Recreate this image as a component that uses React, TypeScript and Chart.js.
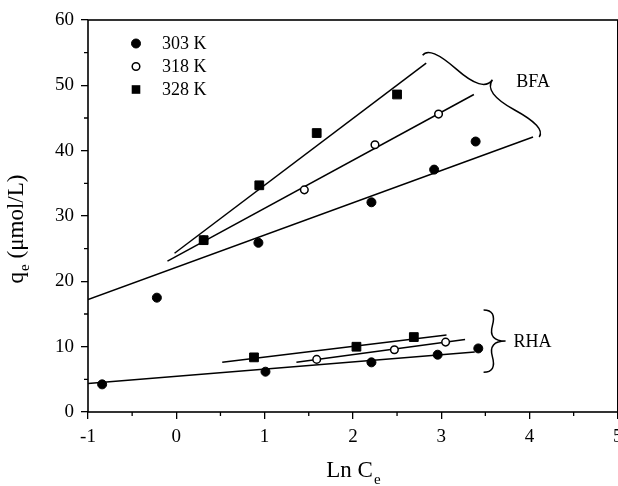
import React, { useEffect, useRef } from "react";
import { Chart, registerables } from "chart.js";

Chart.register(...registerables);

const FONT = '"Liberation Serif", "Times New Roman", serif';

// ---------- data ----------
const seriesLabels = ["303 K", "318 K", "328 K"];

// BFA measured points
const bfa303X = [-0.22, 0.93, 2.21, 2.92, 3.39];
const bfa303Y = [17.5, 25.9, 32.1, 37.1, 41.4];
const bfa318X = [0.31, 1.45, 2.25, 2.97];
const bfa318Y = [26.3, 34.0, 40.9, 45.6];
const bfa328X = [0.31, 0.94, 1.59, 2.5];
const bfa328Y = [26.3, 34.7, 42.7, 48.6];

// RHA measured points
const rha303X = [-0.84, 1.01, 2.21, 2.96, 3.42];
const rha303Y = [4.23, 6.17, 7.6, 8.77, 9.73];
const rha318X = [1.59, 2.47, 3.05];
const rha318Y = [8.05, 9.53, 10.7];
const rha328X = [0.88, 2.04, 2.69];
const rha328Y = [8.36, 9.99, 11.47];

// fitted lines (start, end)
const fitBfa303X = [-1.0, 4.04];
const fitBfa303Y = [17.2, 42.1];
const fitBfa318X = [-0.1, 3.37];
const fitBfa318Y = [23.1, 48.6];
const fitBfa328X = [-0.02, 2.83];
const fitBfa328Y = [24.3, 53.4];
const fitRha303X = [-1.0, 3.38];
const fitRha303Y = [4.37, 9.17];
const fitRha318X = [1.36, 3.27];
const fitRha318Y = [7.6, 11.1];
const fitRha328X = [0.52, 3.06];
const fitRha328Y = [7.6, 11.8];

// axes
const xTickValues = [-1, 0, 1, 2, 3, 4, 5];
const xMinorTicks = [-0.5, 0.5, 1.5, 2.5, 3.5, 4.5];
const yTickValues = [0, 10, 20, 30, 40, 50, 60];
const yMinorTicks = [5, 15, 25, 35, 45, 55];
const xTitle = "Ln C";
const xTitleSub = "e";
const yTitleMain = "q";
const yTitleSub = "e";
const yTitleRest = " (\u03bcmol/L)";

// group braces (data coordinates: end1, end2)
const groupNames = ["BFA", "RHA"];
const braceX1 = [4.11, 3.48];
const braceY1 = [42.1, 6.1];
const braceX2 = [2.79, 3.48];
const braceY2 = [54.6, 15.6];
const braceDepth = [20, 22];
const groupLabelX = [3.85, 3.82];
const groupLabelY = [50.5, 10.75];

const pts = (xs: number[], ys: number[]) => xs.map((v, i) => ({ x: v, y: ys[i] }));

function brace(ctx: CanvasRenderingContext2D, x1: number, y1: number, x2: number, y2: number, w: number, q = 0.6) {
  let dx = x1 - x2;
  let dy = y1 - y2;
  const len = Math.hypot(dx, dy);
  dx /= len;
  dy /= len;
  const qx1 = x1 + q * w * dy, qy1 = y1 - q * w * dx;
  const qx2 = x1 - 0.25 * len * dx + (1 - q) * w * dy, qy2 = y1 - 0.25 * len * dy - (1 - q) * w * dx;
  const tx = x1 - 0.5 * len * dx + w * dy, ty = y1 - 0.5 * len * dy - w * dx;
  const qx3 = x2 + q * w * dy, qy3 = y2 - q * w * dx;
  const qx4 = x1 - 0.75 * len * dx + (1 - q) * w * dy, qy4 = y1 - 0.75 * len * dy - (1 - q) * w * dx;
  ctx.beginPath();
  ctx.moveTo(x1, y1);
  ctx.quadraticCurveTo(qx1, qy1, qx2, qy2);
  ctx.quadraticCurveTo(2 * qx2 - qx1, 2 * qy2 - qy1, tx, ty);
  ctx.moveTo(x2, y2);
  ctx.quadraticCurveTo(qx3, qy3, qx4, qy4);
  ctx.quadraticCurveTo(2 * qx4 - qx3, 2 * qy4 - qy3, tx, ty);
  ctx.stroke();
}

const decorPlugin = {
  id: "decor",
  afterDatasetsDraw(chart: any) {
    const { ctx, chartArea: a, scales } = chart;
    const xs = scales.x;
    const ys = scales.y;
    ctx.save();
    ctx.strokeStyle = "#000";
    ctx.fillStyle = "#000";
    // frame
    ctx.lineWidth = 1.6;
    ctx.strokeRect(a.left, a.top, a.right - a.left, a.bottom - a.top);
    // minor ticks
    ctx.lineWidth = 1.3;
    ctx.beginPath();
    xMinorTicks.forEach((v) => {
      const px = xs.getPixelForValue(v);
      ctx.moveTo(px, a.bottom);
      ctx.lineTo(px, a.bottom + 4);
    });
    yMinorTicks.forEach((v) => {
      const py = ys.getPixelForValue(v);
      ctx.moveTo(a.left - 4, py);
      ctx.lineTo(a.left, py);
    });
    ctx.stroke();

    // braces + group names
    ctx.lineWidth = 1.5;
    groupNames.forEach((name, i) => {
      brace(
        ctx,
        xs.getPixelForValue(braceX1[i]),
        ys.getPixelForValue(braceY1[i]),
        xs.getPixelForValue(braceX2[i]),
        ys.getPixelForValue(braceY2[i]),
        braceDepth[i]
      );
      ctx.font = `18px ${FONT}`;
      ctx.textAlign = "left";
      ctx.textBaseline = "middle";
      ctx.fillText(name, xs.getPixelForValue(groupLabelX[i]), ys.getPixelForValue(groupLabelY[i]));
    });

    // legend
    const ds = chart.data.datasets;
    seriesLabels.forEach((lab, i) => {
      const mx = a.left + 48;
      const my = a.top + 23.5 + i * 23;
      const d = ds[i];
      ctx.fillStyle = d.backgroundColor;
      ctx.strokeStyle = d.borderColor;
      ctx.lineWidth = d.borderWidth;
      if (d.pointStyle === "rect") {
        const s = 8.6;
        ctx.fillRect(mx - s / 2, my - s / 2, s, s);
      } else {
        ctx.beginPath();
        ctx.arc(mx, my, d.pointRadius, 0, Math.PI * 2);
        ctx.fill();
        ctx.stroke();
      }
      ctx.fillStyle = "#000";
      ctx.font = `18px ${FONT}`;
      ctx.textAlign = "left";
      ctx.textBaseline = "middle";
      ctx.fillText(lab, a.left + 74, my + 1);
    });

    // x title
    ctx.fillStyle = "#000";
    ctx.textBaseline = "alphabetic";
    ctx.textAlign = "left";
    ctx.font = `23px ${FONT}`;
    const wMain = ctx.measureText(xTitle).width;
    ctx.font = `15px ${FONT}`;
    const wSub = ctx.measureText(xTitleSub).width;
    const cx = (a.left + a.right) / 2;
    const x0 = cx - (wMain + wSub) / 2;
    ctx.font = `23px ${FONT}`;
    ctx.fillText(xTitle, x0, 477);
    ctx.font = `15px ${FONT}`;
    ctx.fillText(xTitleSub, x0 + wMain + 1, 484);

    // y title
    ctx.save();
    ctx.translate(23, 229);
    ctx.rotate(-Math.PI / 2);
    ctx.font = `23px ${FONT}`;
    const w1 = ctx.measureText(yTitleMain).width;
    const w3 = ctx.measureText(yTitleRest).width;
    ctx.font = `15px ${FONT}`;
    const w2 = ctx.measureText(yTitleSub).width;
    const tot = w1 + w2 + w3 + 1;
    let sx = -tot / 2;
    ctx.font = `23px ${FONT}`;
    ctx.fillText(yTitleMain, sx, 0);
    sx += w1 + 1;
    ctx.font = `15px ${FONT}`;
    ctx.fillText(yTitleSub, sx, 6);
    sx += w2;
    ctx.font = `23px ${FONT}`;
    ctx.fillText(yTitleRest, sx, 0);
    ctx.restore();

    ctx.restore();
  },
};

const lineDs = (xs: number[], ys: number[]) => ({
  data: pts(xs, ys),
  showLine: true,
  pointRadius: 0,
  borderColor: "#000",
  backgroundColor: "#000",
  borderWidth: 1.5,
  fill: false,
  order: 10,
});

export default function App() {
  const ref = useRef<HTMLCanvasElement>(null);
  useEffect(() => {
    if (!ref.current) return;
    const chart = new Chart(ref.current, {
      type: "scatter",
      data: {
        datasets: [
          {
            label: seriesLabels[0],
            data: [...pts(bfa303X, bfa303Y), ...pts(rha303X, rha303Y)],
            pointStyle: "circle",
            pointRadius: 4.5,
            backgroundColor: "#000",
            borderColor: "#000",
            borderWidth: 1,
            order: 3,
          },
          {
            label: seriesLabels[1],
            data: [...pts(bfa318X, bfa318Y), ...pts(rha318X, rha318Y)],
            pointStyle: "circle",
            pointRadius: 3.8,
            backgroundColor: "#fff",
            borderColor: "#000",
            borderWidth: 1.5,
            order: 2,
          },
          {
            label: seriesLabels[2],
            data: [...pts(bfa328X, bfa328Y), ...pts(rha328X, rha328Y)],
            pointStyle: "rect",
            pointRadius: 6.2,
            backgroundColor: "#000",
            borderColor: "#000",
            borderWidth: 1,
            order: 1,
          },
          lineDs(fitBfa303X, fitBfa303Y),
          lineDs(fitBfa318X, fitBfa318Y),
          lineDs(fitBfa328X, fitBfa328Y),
          lineDs(fitRha303X, fitRha303Y),
          lineDs(fitRha318X, fitRha318Y),
          lineDs(fitRha328X, fitRha328Y),
        ] as any,
      },
      options: {
        animation: false,
        responsive: false,
        maintainAspectRatio: false,
        devicePixelRatio: 1,
        layout: { padding: { top: 20, right: 1, left: 0, bottom: 0 } },
        plugins: { legend: { display: false }, tooltip: { enabled: false }, title: { display: false } },
        scales: {
          x: {
            type: "linear",
            min: -1,
            max: 5,
            afterBuildTicks: (s: any) => {
              s.ticks = xTickValues.map((v) => ({ value: v }));
            },
            afterFit: (s: any) => {
              s.height = 74;
              s.paddingLeft = 0;
              s.paddingRight = 0;
            },
            border: { display: false },
            grid: { drawOnChartArea: false, drawTicks: true, tickLength: 7, color: "#000", lineWidth: 1.3 },
            ticks: {
              color: "#000",
              font: { family: FONT, size: 19 },
              padding: 7,
              maxRotation: 0,
              autoSkip: false,
              callback: (v: any) => String(v),
            },
          },
          y: {
            type: "linear",
            min: 0,
            max: 60,
            afterBuildTicks: (s: any) => {
              s.ticks = yTickValues.map((v) => ({ value: v }));
            },
            afterFit: (s: any) => {
              s.width = 88;
              s.paddingTop = 0;
              s.paddingBottom = 0;
            },
            border: { display: false },
            grid: { drawOnChartArea: false, drawTicks: true, tickLength: 7, color: "#000", lineWidth: 1.3 },
            ticks: {
              color: "#000",
              font: { family: FONT, size: 19 },
              padding: 7,
              autoSkip: false,
              callback: (v: any) => String(v),
            },
          },
        },
      },
      plugins: [decorPlugin],
    } as any);
    return () => chart.destroy();
  }, []);
  return (
    <div style={{ position: "absolute", left: 0, top: 0, width: 618, height: 486, background: "#fff", overflow: "hidden" }}>
      <canvas ref={ref} width={625} height={486} style={{ display: "block", width: 625, height: 486 }} />
    </div>
  );
}
